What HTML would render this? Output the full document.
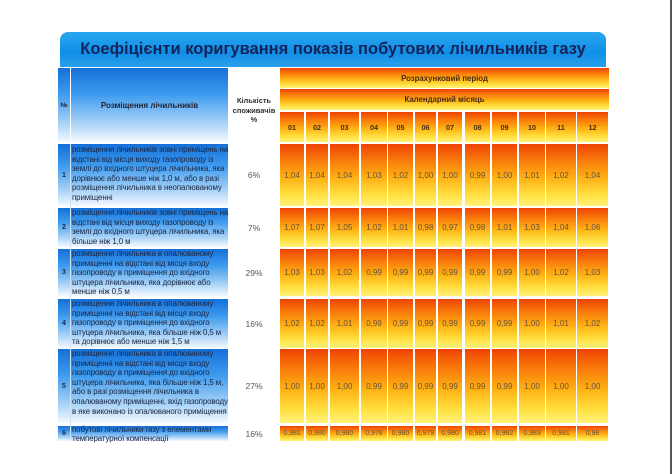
<!DOCTYPE html>
<html><head><meta charset="utf-8"><style>
body{margin:0;width:672px;height:474px;background:#fff;position:relative;overflow:hidden;font-family:"Liberation Sans",sans-serif}
div{position:absolute;box-sizing:border-box}
.o{background:linear-gradient(#ee4204 0%,#f8780a 25%,#ffb214 55%,#ffe040 82%,#fff27a 100%);color:#6a5238;font-size:8px;display:flex;align-items:center;justify-content:center}
.h{color:#4a2a10;font-weight:bold;font-size:7.3px}
.b{background:linear-gradient(#1470d8 0%,#3d9aee 35%,#a9d3f7 75%,#f4f9fe 100%)}
.t{font-size:7.9px;line-height:9.6px;color:#1a2440;left:71px;width:158px;padding-left:1px;overflow:hidden;letter-spacing:-0.1px}
.n{left:58px;width:12px;font-size:7px;font-weight:bold;color:#1a2a50;display:flex;align-items:center;justify-content:center}
.p{left:228px;width:52px;font-size:8.5px;color:#555;display:flex;align-items:center;justify-content:center}
</style></head><body>
<div style="left:60px;top:32px;width:546px;height:35px;border-radius:8px 8px 0 0;background:linear-gradient(#2aa6f0,#0f8fe6 60%,#2aa0ec);color:#14225a;font-weight:bold;font-size:16.5px;display:flex;align-items:center;justify-content:center">Коефіцієнти коригування показів побутових лічильників газу</div>
<div class="b" style="left:58px;top:68px;width:12px;height:74px"></div>
<div class="b" style="left:71px;top:68px;width:157px;height:74px"></div>
<div style="left:58px;top:68px;width:12px;height:74px;font-size:6.5px;font-weight:bold;color:#223;display:flex;align-items:center;justify-content:center">№</div>
<div style="left:71px;top:68px;width:157px;height:74px;font-size:8px;font-weight:bold;color:#223;display:flex;align-items:center;justify-content:center">Розміщення лічильників</div>
<div style="left:228px;top:96px;width:52px;height:40px;font-size:7.5px;font-weight:bold;color:#333;text-align:center;line-height:9.5px">Кількість споживачів<br>%</div>
<div class="o h" style="left:280px;top:68px;width:329px;height:20px;font-size:7.8px">Розрахунковий період</div>
<div class="o h" style="left:280px;top:89px;width:329px;height:21px;font-size:7.8px">Календарний місяць</div>

<div class="b" style="left:58px;top:144px;width:170px;height:62px"></div>
<div class="b" style="left:58px;top:208px;width:170px;height:39px"></div>
<div class="b" style="left:58px;top:249px;width:170px;height:47px"></div>
<div class="b" style="left:58px;top:299px;width:170px;height:49px"></div>
<div class="b" style="left:58px;top:349px;width:170px;height:74px"></div>
<div class="b" style="left:58px;top:426px;width:170px;height:15px"></div>
<div style="left:70px;top:144px;width:1px;height:297px;background:#cfe2f5"></div>

<div class="n" style="top:144px;height:62px">1</div>
<div class="t" style="top:145px">розміщення лічильників зовні приміщень на відстані від місця виходу газопроводу із землі до вхідного штуцера лічильника, яка дорівнює або менше ніж 1,0 м, або в разі розміщення лічильника в неопалюваному приміщенні</div>
<div class="n" style="top:208px;height:39px">2</div>
<div class="t" style="top:208px">розміщення лічильників зовні приміщень на відстані від місця виходу газопроводу із землі до вхідного штуцера лічильника, яка більше ніж 1,0 м</div>
<div class="n" style="top:249px;height:47px">3</div>
<div class="t" style="top:249px">розміщення лічильника в опалюваному приміщенні на відстані від місця входу газопроводу в приміщення до вхідного штуцера лічильника, яка дорівнює або менше ніж 0,5 м</div>
<div class="n" style="top:299px;height:49px">4</div>
<div class="t" style="top:299px">розміщення лічильника в опалюваному приміщенні на відстані від місця входу газопроводу в приміщення до вхідного штуцера лічильника, яка більше ніж 0,5 м та дорівнює або менше ніж 1,5 м</div>
<div class="n" style="top:349px;height:74px">5</div>
<div class="t" style="top:349px">розміщення лічильника в опалюваному приміщенні на відстані від місця входу газопроводу в приміщення до вхідного штуцера лічильника, яка більше ніж 1,5 м, або в разі розміщення лічильника в опалюваному приміщенні, вхід газопроводу в яке виконано із опалюваного приміщення</div>
<div class="n" style="top:426px;height:15px">6</div>
<div class="t" style="top:425px;line-height:9px">побутові лічильники газу з елементами температурної компенсації</div>

<div class="p" style="top:144px;height:62px">6%</div>
<div class="p" style="top:208px;height:39px">7%</div>
<div class="p" style="top:249px;height:47px">29%</div>
<div class="p" style="top:299px;height:49px">16%</div>
<div class="p" style="top:349px;height:74px">27%</div>
<div class="p" style="top:426px;height:15px">16%</div>

<div class="o h" style="left:280px;top:112px;width:24px;height:30px">01</div>
<div class="o h" style="left:306px;top:112px;width:22px;height:30px">02</div>
<div class="o h" style="left:330px;top:112px;width:29px;height:30px">03</div>
<div class="o h" style="left:361px;top:112px;width:26px;height:30px">04</div>
<div class="o h" style="left:388px;top:112px;width:25px;height:30px">05</div>
<div class="o h" style="left:415px;top:112px;width:21px;height:30px">06</div>
<div class="o h" style="left:438px;top:112px;width:24px;height:30px">07</div>
<div class="o h" style="left:465px;top:112px;width:25px;height:30px">08</div>
<div class="o h" style="left:492px;top:112px;width:25px;height:30px">09</div>
<div class="o h" style="left:519px;top:112px;width:26px;height:30px">10</div>
<div class="o h" style="left:546px;top:112px;width:30px;height:30px">11</div>
<div class="o h" style="left:577px;top:112px;width:31px;height:30px">12</div>

<div class="o" style="left:280px;top:144px;width:24px;height:62px">1,04</div>
<div class="o" style="left:306px;top:144px;width:22px;height:62px">1,04</div>
<div class="o" style="left:330px;top:144px;width:29px;height:62px">1,04</div>
<div class="o" style="left:361px;top:144px;width:26px;height:62px">1,03</div>
<div class="o" style="left:388px;top:144px;width:25px;height:62px">1,02</div>
<div class="o" style="left:415px;top:144px;width:21px;height:62px">1,00</div>
<div class="o" style="left:438px;top:144px;width:24px;height:62px">1,00</div>
<div class="o" style="left:465px;top:144px;width:25px;height:62px">0,99</div>
<div class="o" style="left:492px;top:144px;width:25px;height:62px">1,00</div>
<div class="o" style="left:519px;top:144px;width:26px;height:62px">1,01</div>
<div class="o" style="left:546px;top:144px;width:30px;height:62px">1,02</div>
<div class="o" style="left:577px;top:144px;width:31px;height:62px">1,04</div>

<div class="o" style="left:280px;top:208px;width:24px;height:39px">1,07</div>
<div class="o" style="left:306px;top:208px;width:22px;height:39px">1,07</div>
<div class="o" style="left:330px;top:208px;width:29px;height:39px">1,05</div>
<div class="o" style="left:361px;top:208px;width:26px;height:39px">1,02</div>
<div class="o" style="left:388px;top:208px;width:25px;height:39px">1,01</div>
<div class="o" style="left:415px;top:208px;width:21px;height:39px">0,98</div>
<div class="o" style="left:438px;top:208px;width:24px;height:39px">0,97</div>
<div class="o" style="left:465px;top:208px;width:25px;height:39px">0,98</div>
<div class="o" style="left:492px;top:208px;width:25px;height:39px">1,01</div>
<div class="o" style="left:519px;top:208px;width:26px;height:39px">1,03</div>
<div class="o" style="left:546px;top:208px;width:30px;height:39px">1,04</div>
<div class="o" style="left:577px;top:208px;width:31px;height:39px">1,06</div>

<div class="o" style="left:280px;top:249px;width:24px;height:47px">1,03</div>
<div class="o" style="left:306px;top:249px;width:22px;height:47px">1,03</div>
<div class="o" style="left:330px;top:249px;width:29px;height:47px">1,02</div>
<div class="o" style="left:361px;top:249px;width:26px;height:47px">0,99</div>
<div class="o" style="left:388px;top:249px;width:25px;height:47px">0,99</div>
<div class="o" style="left:415px;top:249px;width:21px;height:47px">0,99</div>
<div class="o" style="left:438px;top:249px;width:24px;height:47px">0,99</div>
<div class="o" style="left:465px;top:249px;width:25px;height:47px">0,99</div>
<div class="o" style="left:492px;top:249px;width:25px;height:47px">0,99</div>
<div class="o" style="left:519px;top:249px;width:26px;height:47px">1,00</div>
<div class="o" style="left:546px;top:249px;width:30px;height:47px">1,02</div>
<div class="o" style="left:577px;top:249px;width:31px;height:47px">1,03</div>

<div class="o" style="left:280px;top:299px;width:24px;height:49px">1,02</div>
<div class="o" style="left:306px;top:299px;width:22px;height:49px">1,02</div>
<div class="o" style="left:330px;top:299px;width:29px;height:49px">1,01</div>
<div class="o" style="left:361px;top:299px;width:26px;height:49px">0,99</div>
<div class="o" style="left:388px;top:299px;width:25px;height:49px">0,99</div>
<div class="o" style="left:415px;top:299px;width:21px;height:49px">0,99</div>
<div class="o" style="left:438px;top:299px;width:24px;height:49px">0,99</div>
<div class="o" style="left:465px;top:299px;width:25px;height:49px">0,99</div>
<div class="o" style="left:492px;top:299px;width:25px;height:49px">0,99</div>
<div class="o" style="left:519px;top:299px;width:26px;height:49px">1,00</div>
<div class="o" style="left:546px;top:299px;width:30px;height:49px">1,01</div>
<div class="o" style="left:577px;top:299px;width:31px;height:49px">1,02</div>

<div class="o" style="left:280px;top:349px;width:24px;height:74px">1,00</div>
<div class="o" style="left:306px;top:349px;width:22px;height:74px">1,00</div>
<div class="o" style="left:330px;top:349px;width:29px;height:74px">1,00</div>
<div class="o" style="left:361px;top:349px;width:26px;height:74px">0,99</div>
<div class="o" style="left:388px;top:349px;width:25px;height:74px">0,99</div>
<div class="o" style="left:415px;top:349px;width:21px;height:74px">0,99</div>
<div class="o" style="left:438px;top:349px;width:24px;height:74px">0,99</div>
<div class="o" style="left:465px;top:349px;width:25px;height:74px">0,99</div>
<div class="o" style="left:492px;top:349px;width:25px;height:74px">0,99</div>
<div class="o" style="left:519px;top:349px;width:26px;height:74px">1,00</div>
<div class="o" style="left:546px;top:349px;width:30px;height:74px">1,00</div>
<div class="o" style="left:577px;top:349px;width:31px;height:74px">1,00</div>

<div class="o" style="left:280px;top:426px;width:24px;height:15px;font-size:7px">0,981</div>
<div class="o" style="left:306px;top:426px;width:22px;height:15px;font-size:7px">0,980</div>
<div class="o" style="left:330px;top:426px;width:29px;height:15px;font-size:7px">0,980</div>
<div class="o" style="left:361px;top:426px;width:26px;height:15px;font-size:7px">0,978</div>
<div class="o" style="left:388px;top:426px;width:25px;height:15px;font-size:7px">0,980</div>
<div class="o" style="left:415px;top:426px;width:21px;height:15px;font-size:7px">0,979</div>
<div class="o" style="left:438px;top:426px;width:24px;height:15px;font-size:7px">0,980</div>
<div class="o" style="left:465px;top:426px;width:25px;height:15px;font-size:7px">0,981</div>
<div class="o" style="left:492px;top:426px;width:25px;height:15px;font-size:7px">0,982</div>
<div class="o" style="left:519px;top:426px;width:26px;height:15px;font-size:7px">0,983</div>
<div class="o" style="left:546px;top:426px;width:30px;height:15px;font-size:7px">0,981</div>
<div class="o" style="left:577px;top:426px;width:31px;height:15px;font-size:7px">0,98</div>

<div style="left:670px;top:0;width:2px;height:474px;background:#555"></div>
</body></html>
